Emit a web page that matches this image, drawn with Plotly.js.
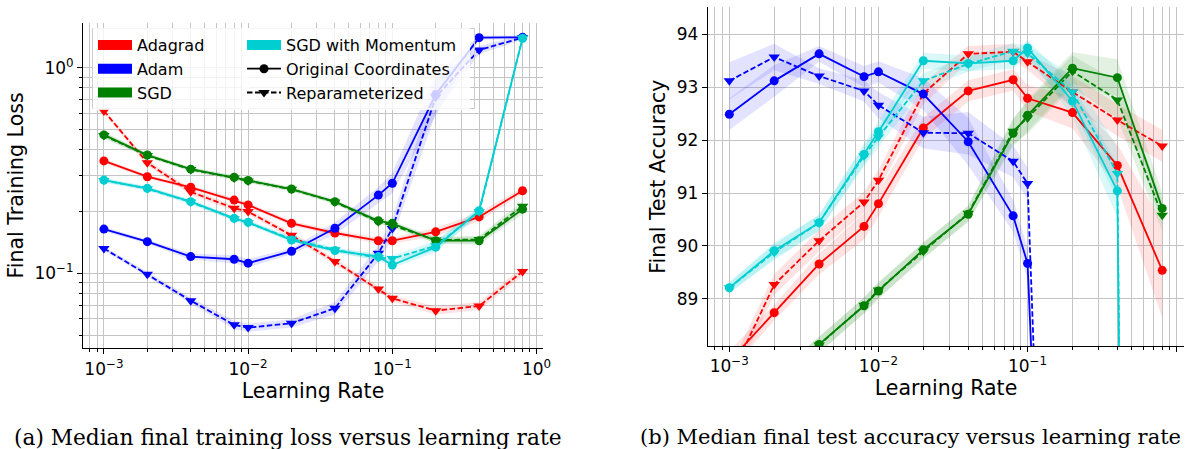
<!DOCTYPE html>
<html>
<head>
<meta charset="utf-8">
<script src="https://cdn.plot.ly/plotly-3.0.1.min.js"></script>
<style>html,body{margin:0;padding:0;background:#fff;}#chart{width:1191px;height:449px;}</style>
</head>
<body>
<div id="chart"></div>
<script>
// ---------------- DATA ----------------
const learningRates = [0.001, 0.002, 0.004, 0.008, 0.01, 0.02, 0.04, 0.08, 0.1, 0.2, 0.4, 0.8];

// (a) Median final training loss
const adagradLossOrig = [0.352, 0.295, 0.262, 0.227, 0.215, 0.175, 0.157, 0.144, 0.144, 0.159, 0.188, 0.252];
const adagradLossRep  = [0.616, 0.345, 0.249, 0.207, 0.1995, 0.153, 0.114, 0.0839, 0.0755, 0.0658, 0.0693, 0.102];
const adamLossOrig    = [0.164, 0.1425, 0.1205, 0.117, 0.112, 0.128, 0.1655, 0.240, 0.274, 0.74, 1.40, 1.405];
const adamLossRep     = [0.132, 0.099, 0.0736, 0.0561, 0.0544, 0.0571, 0.0676, 0.125, 0.165, 0.72, 1.22, 1.40];
const sgdLossOrig     = [0.471, 0.376, 0.321, 0.293, 0.283, 0.257, 0.223, 0.180, 0.175, 0.144, 0.144, 0.205];
const sgdLossRep      = [0.468, 0.374, 0.320, 0.291, 0.281, 0.256, 0.222, 0.178, 0.171, 0.145, 0.146, 0.212];
const sgdmLossOrig    = [0.284, 0.259, 0.223, 0.185, 0.177, 0.145, 0.129, 0.1205, 0.1097, 0.134, 0.2015, 1.39];
const sgdmLossRep     = [0.283, 0.258, 0.222, 0.184, 0.176, 0.147, 0.130, 0.119, 0.118, 0.136, 0.199, 1.39];

// spread of the shaded bands (log10 half-width)
const adagradLossOrigSpread = [0.010, 0.010, 0.010, 0.010, 0.010, 0.012, 0.012, 0.015, 0.015, 0.020, 0.022, 0.015];
const adagradLossRepSpread  = [0.010, 0.015, 0.015, 0.012, 0.012, 0.015, 0.015, 0.015, 0.015, 0.020, 0.020, 0.022];
const adamLossOrigSpread    = [0.010, 0.010, 0.015, 0.020, 0.020, 0.015, 0.030, 0.040, 0.050, 0.100, 0.010, 0.010];
const adamLossRepSpread     = [0.010, 0.012, 0.015, 0.020, 0.020, 0.020, 0.030, 0.040, 0.050, 0.080, 0.020, 0.010];
const sgdLossOrigSpread     = [0.015, 0.010, 0.010, 0.010, 0.010, 0.010, 0.010, 0.012, 0.012, 0.015, 0.020, 0.025];
const sgdLossRepSpread      = [0.015, 0.010, 0.010, 0.010, 0.010, 0.010, 0.010, 0.012, 0.012, 0.015, 0.020, 0.025];
const sgdmLossOrigSpread    = [0.010, 0.010, 0.010, 0.010, 0.010, 0.012, 0.012, 0.015, 0.015, 0.025, 0.020, 0.010];
const sgdmLossRepSpread     = [0.010, 0.010, 0.010, 0.010, 0.010, 0.012, 0.012, 0.015, 0.015, 0.025, 0.020, 0.010];

// (b) Median final test accuracy
const adagradAccOrig = [87.82, 88.74, 89.66, 90.37, 90.80, 92.23, 92.93, 93.14, 92.79, 92.52, 91.52, 89.54];
const adagradAccRep  = [87.48, 89.27, 90.10, 90.83, 91.24, 92.88, 93.63, 93.67, 93.48, 92.91, 92.38, 91.89];
const adamAccOrig    = [92.49, 93.12, 93.63, 93.20, 93.29, 92.87, 91.97, 90.57, 89.67, 59.0, 50.0, 45.0];
const adamAccRep     = [93.12, 93.57, 93.21, 92.93, 92.66, 92.14, 92.13, 91.60, 91.18, 51.0, 45.0, 40.0];
const sgdAccOrig     = [86.60, 87.40, 88.14, 88.87, 89.15, 89.93, 90.60, 92.13, 92.47, 93.36, 93.18, 90.71];
const sgdAccRep      = [86.60, 87.40, 88.13, 88.88, 89.17, 89.90, 90.62, 92.17, 92.42, 93.30, 92.76, 90.58];
const sgdmAccOrig    = [89.21, 89.91, 90.44, 91.73, 92.16, 93.50, 93.45, 93.50, 93.74, 92.74, 91.04, 10.0];
const sgdmAccRep     = [89.21, 89.88, 90.44, 91.70, 92.06, 93.12, 93.44, 93.68, 93.64, 92.91, 91.37, 10.0];

// spread of the shaded bands (accuracy half-width)
const adagradAccOrigSpread = [0.20, 0.15, 0.20, 0.25, 0.25, 0.20, 0.20, 0.20, 0.25, 0.30, 0.40, 0.90];
const adagradAccRepSpread  = [0.20, 0.20, 0.20, 0.20, 0.20, 0.20, 0.15, 0.15, 0.15, 0.30, 0.30, 0.30];
const adamAccOrigSpread    = [0.30, 0.30, 0.15, 0.20, 0.20, 0.30, 0.45, 0.30, 0.30, 1.00, 1.00, 1.00];
const adamAccRepSpread     = [0.35, 0.25, 0.15, 0.20, 0.25, 0.30, 0.40, 0.30, 0.30, 1.00, 1.00, 1.00];
const sgdAccOrigSpread     = [0.15, 0.15, 0.15, 0.15, 0.15, 0.15, 0.15, 0.25, 0.30, 0.30, 0.35, 0.30];
const sgdAccRepSpread      = [0.15, 0.15, 0.15, 0.15, 0.15, 0.15, 0.15, 0.25, 0.30, 0.30, 0.35, 0.30];
const sgdmAccOrigSpread    = [0.10, 0.15, 0.15, 0.20, 0.20, 0.15, 0.15, 0.15, 0.15, 0.30, 0.50, 1.00];
const sgdmAccRepSpread     = [0.10, 0.15, 0.15, 0.20, 0.20, 0.15, 0.15, 0.15, 0.15, 0.30, 0.50, 1.00];

const optimizerNames = ['Adagrad', 'Adam', 'SGD', 'SGD with Momentum'];
const styleNames = ['Original Coordinates', 'Reparameterized'];

const majorXTicks = [0.001, 0.01, 0.1, 1];
const majorXLabels = ['10<sup>\u22123</sup>', '10<sup>\u22122</sup>', '10<sup>\u22121</sup>', '10<sup>0</sup>'];
const minorXTicks = [0.0008, 0.0009, 0.002, 0.003, 0.004, 0.005, 0.006, 0.007, 0.008, 0.009,
                     0.02, 0.03, 0.04, 0.05, 0.06, 0.07, 0.08, 0.09, 0.2, 0.3, 0.4, 0.5, 0.6, 0.7, 0.8, 0.9];
const majorLossTicks = [0.1, 1];
const majorLossLabels = ['10<sup>\u22121</sup>', '10<sup>0</sup>'];
const minorLossTicks = [0.05, 0.06, 0.07, 0.08, 0.09, 0.2, 0.3, 0.4, 0.5, 0.6, 0.7, 0.8, 0.9];
const accTicks = [89, 90, 91, 92, 93, 94];

const captionA = '(a) Median final training loss versus learning rate';
const captionB = '(b) Median final test accuracy versus learning rate';

// ---------------- STYLE ----------------
const colors = {Adagrad: '#ff0000', Adam: '#0000ff', SGD: '#008000', SGDM: '#00ced1'};
const bandColors = {Adagrad: 'rgba(255,0,0,0.11)', Adam: 'rgba(0,0,255,0.11)', SGD: 'rgba(0,128,0,0.11)', SGDM: 'rgba(0,206,209,0.14)'};
const W = 1191, H = 449;
const FONT = 'DejaVu Sans';
const px = v => v / W;
const py = v => (H - v) / H;
const nb = n => '\u00a0'.repeat(n); // trailing padding so the two legend boxes meet

const traces = [];

function bandLog(vals, spread, key, xa, ya) {
  const up = vals.map((v, i) => v * Math.pow(10, spread[i]));
  const lo = vals.map((v, i) => v / Math.pow(10, spread[i]));
  traces.push({x: learningRates.concat(learningRates.slice().reverse()), y: up.concat(lo.slice().reverse()),
    xaxis: xa, yaxis: ya, type: 'scatter', mode: 'none', fill: 'toself', fillcolor: bandColors[key],
    showlegend: false, hoverinfo: 'skip'});
}
function bandLin(vals, spread, key, xa, ya) {
  const up = vals.map((v, i) => v + spread[i]);
  const lo = vals.map((v, i) => v - spread[i]);
  traces.push({x: learningRates.concat(learningRates.slice().reverse()), y: up.concat(lo.slice().reverse()),
    xaxis: xa, yaxis: ya, type: 'scatter', mode: 'none', fill: 'toself', fillcolor: bandColors[key],
    showlegend: false, hoverinfo: 'skip'});
}
function line(vals, key, rep, xa, ya) {
  traces.push({x: learningRates, y: vals, xaxis: xa, yaxis: ya, type: 'scatter', mode: 'lines+markers',
    line: {color: colors[key], width: 1.8, dash: rep ? '5.5px,2.5px' : 'solid'},
    marker: {color: colors[key], size: rep ? 10 : 9, symbol: rep ? 'triangle-down' : 'circle'},
    showlegend: false});
}

const lossSets = [
  ['Adagrad', adagradLossOrig, adagradLossOrigSpread, adagradLossRep, adagradLossRepSpread],
  ['Adam', adamLossOrig, adamLossOrigSpread, adamLossRep, adamLossRepSpread],
  ['SGD', sgdLossOrig, sgdLossOrigSpread, sgdLossRep, sgdLossRepSpread],
  ['SGDM', sgdmLossOrig, sgdmLossOrigSpread, sgdmLossRep, sgdmLossRepSpread]
];
const accSets = [
  ['Adagrad', adagradAccOrig, adagradAccOrigSpread, adagradAccRep, adagradAccRepSpread],
  ['Adam', adamAccOrig, adamAccOrigSpread, adamAccRep, adamAccRepSpread],
  ['SGD', sgdAccOrig, sgdAccOrigSpread, sgdAccRep, sgdAccRepSpread],
  ['SGDM', sgdmAccOrig, sgdmAccOrigSpread, sgdmAccRep, sgdmAccRepSpread]
];
lossSets.forEach(s => { bandLog(s[1], s[2], s[0], 'x', 'y'); bandLog(s[3], s[4], s[0], 'x', 'y'); });
accSets.forEach(s => { bandLin(s[1], s[2], s[0], 'x2', 'y2'); bandLin(s[3], s[4], s[0], 'x2', 'y2'); });
lossSets.forEach(s => { line(s[1], s[0], false, 'x', 'y'); line(s[3], s[0], true, 'x', 'y'); });
accSets.forEach(s => { line(s[1], s[0], false, 'x2', 'y2'); line(s[3], s[0], true, 'x2', 'y2'); });

// legend entries
const patchKeys = ['Adagrad', 'Adam', 'SGD'];
patchKeys.forEach((k, i) => traces.push({x: [null], y: [null], xaxis: 'x', yaxis: 'y', type: 'scatter', mode: 'lines',
  name: optimizerNames[i] + (i === 2 ? nb(14) : ''), line: {color: colors[k], width: 12}, legend: 'legend', showlegend: true}));
traces.push({x: [null], y: [null], xaxis: 'x', yaxis: 'y', type: 'scatter', mode: 'lines',
  name: optimizerNames[3], line: {color: colors.SGDM, width: 12}, legend: 'legend2', showlegend: true});
traces.push({x: [null], y: [null], xaxis: 'x', yaxis: 'y', type: 'scatter', mode: 'lines+markers',
  name: styleNames[0] + nb(3), line: {color: 'black', width: 1.8}, marker: {color: 'black', size: 9, symbol: 'circle'},
  legend: 'legend2', showlegend: true});
traces.push({x: [null], y: [null], xaxis: 'x', yaxis: 'y', type: 'scatter', mode: 'lines+markers',
  name: styleNames[1], line: {color: 'black', width: 1.8, dash: '5.5px,2.5px'}, marker: {color: 'black', size: 10, symbol: 'triangle-down'},
  legend: 'legend2', showlegend: true});

const gridColor = '#c4c4c4';
const TICKFONT = {family: FONT, size: 17, color: 'black'};
const TITLEFONT = {family: FONT, size: 20.5, color: 'black'};
const LEGENDFONT = {family: FONT, size: 16, color: 'black'};
function logX(domain, anchor, range) {
  return {type: 'log', domain: domain, anchor: anchor, range: range,
    tickmode: 'array', tickvals: majorXTicks, ticktext: majorXLabels,
    ticks: 'outside', ticklen: 5, tickwidth: 1, tickcolor: 'black',
    showgrid: true, gridcolor: gridColor, gridwidth: 1,
    minor: {tickmode: 'array', tickvals: minorXTicks, ticks: 'outside', ticklen: 3, tickcolor: 'black', showgrid: true, gridcolor: gridColor, gridwidth: 1},
    showline: true, linecolor: 'black', linewidth: 1, zeroline: false,
    tickfont: TICKFONT,
    title: {text: 'Learning Rate', font: TITLEFONT, standoff: 3},
    automargin: false};
}

const layout = {
  width: W, height: H,
  margin: {l: 0, r: 0, t: 0, b: 0},
  paper_bgcolor: 'white', plot_bgcolor: 'white',
  font: {family: FONT, color: 'black'},
  xaxis: logX([px(83), px(543)], 'y', [-3.145, 0.045]),
  yaxis: {type: 'log', domain: [py(348.3), py(22.7)], anchor: 'x', range: [-1.365, 0.219],
    tickmode: 'array', tickvals: majorLossTicks, ticktext: majorLossLabels,
    ticks: 'outside', ticklen: 5, tickcolor: 'black',
    showgrid: true, gridcolor: gridColor, gridwidth: 1,
    minor: {tickmode: 'array', tickvals: minorLossTicks, ticks: 'outside', ticklen: 3, tickcolor: 'black', showgrid: true, gridcolor: gridColor, gridwidth: 1},
    showline: true, linecolor: 'black', linewidth: 1, zeroline: false,
    tickfont: TICKFONT,
    title: {text: 'Final Training Loss', font: TITLEFONT, standoff: 5},
    automargin: false},
  xaxis2: logX([px(707.7), px(1184.3)], 'y2', [-3.145, 0.051]),
  yaxis2: {domain: [py(346), py(7.3)], anchor: 'x2', range: [88.11, 94.51],
    tickmode: 'array', tickvals: accTicks,
    ticks: 'outside', ticklen: 5, tickcolor: 'black',
    showgrid: true, gridcolor: gridColor, gridwidth: 1,
    showline: true, linecolor: 'black', linewidth: 1, zeroline: false,
    tickfont: TICKFONT,
    title: {text: 'Final Test Accuracy', font: TITLEFONT, standoff: 5},
    automargin: false},
  legend: {x: px(93), y: py(28), xanchor: 'left', yanchor: 'top', orientation: 'v',
    bgcolor: 'rgba(255,255,255,0.8)', borderwidth: 0, itemwidth: 34, tracegroupgap: 0, font: LEGENDFONT},
  legend2: {x: px(242), y: py(28), xanchor: 'left', yanchor: 'top', orientation: 'v',
    bgcolor: 'rgba(255,255,255,0.8)', borderwidth: 0, itemwidth: 34, tracegroupgap: 0, font: LEGENDFONT},
  shapes: [{type: 'rect', xref: 'paper', yref: 'paper', layer: 'above',
    x0: px(92.5), x1: px(474.5), y0: py(108.5), y1: py(28.5),
    fillcolor: 'rgba(0,0,0,0)', line: {color: '#cccccc', width: 1}}],
  annotations: [
    {text: captionA, xref: 'paper', yref: 'paper', x: px(12), y: py(437), xanchor: 'left', yanchor: 'middle',
      showarrow: false, font: {family: 'DejaVu Serif', size: 21.7, color: 'black'}},
    {text: captionB, xref: 'paper', yref: 'paper', x: px(638), y: py(437), xanchor: 'left', yanchor: 'middle',
      showarrow: false, font: {family: 'DejaVu Serif', size: 21, color: 'black'}}
  ],
  showlegend: true
};

Plotly.newPlot('chart', traces, layout, {staticPlot: true, displayModeBar: false});
</script>
</body>
</html>
